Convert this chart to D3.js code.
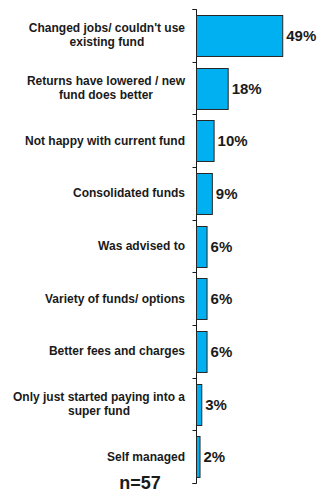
<!DOCTYPE html>
<html>
<head>
<meta charset="utf-8">
<script src="https://cdn.jsdelivr.net/npm/d3@7"></script>
<style>
  html, body { margin: 0; padding: 0; background: #ffffff; }
  svg { display: block; }
  text { font-family: Arial, "Liberation Sans", sans-serif; font-weight: bold; fill: #1a1a1a; }
</style>
</head>
<body>
<svg id="chart" width="322" height="494"></svg>
<script>
// Reasons for switching super fund (percent of respondents)
const categories = [
  "Changed jobs/ couldn't use\nexisting fund",
  "Returns have lowered / new\nfund does better",
  "Not happy with current fund",
  "Consolidated funds",
  "Was advised to",
  "Variety of funds/ options",
  "Better fees and charges",
  "Only just started paying into a\nsuper fund",
  "Self managed"
];
const values = [49, 18, 10, 9, 6, 6, 6, 3, 2];
const valueLabels = ["49%", "18%", "10%", "9%", "6%", "6%", "6%", "3%", "2%"];
const sampleNote = "n=57";

const svg = d3.select("#chart");

const x = d3.scaleLinear().domain([0, 50]).range([196, 284]);
const y = d3.scaleBand().domain(categories).range([9, 483])
  .paddingInner(0.222).paddingOuter(0.111);

// category axis on the left of the bars
const gAxis = svg.append("g").attr("transform", `translate(${x(0) + 0.5},0)`);
gAxis.append("path").attr("fill", "none").attr("stroke", "#1a1a1a").attr("d", "M-4,9.5H0V483.5H-4");
// boundary ticks between categories
const bounds = d3.range(categories.length + 1).map(i => 9 + i * y.step());
gAxis.selectAll("line.b").data(bounds).join("line")
  .attr("class", "b")
  .attr("x1", -4).attr("x2", 0)
  .attr("y1", d => Math.round(d) + 0.5).attr("y2", d => Math.round(d) + 0.5)
  .attr("stroke", "#1a1a1a");

// bars
svg.append("g").selectAll("rect").data(values).join("rect")
  .attr("x", x(0) + 0.5)
  .attr("y", (d, i) => Math.round(y(categories[i])) + 0.5)
  .attr("width", d => x(d) - x(0))
  .attr("height", y.bandwidth())
  .attr("fill", "#00B0F0")
  .attr("stroke", "#262626")
  .attr("stroke-width", 1);

// value labels
svg.append("g").selectAll("text").data(values).join("text")
  .attr("x", d => x(d) + 4)
  .attr("y", (d, i) => y(categories[i]) + y.bandwidth() / 2 + 5.5)
  .attr("font-size", 15)
  .text((d, i) => valueLabels[i]);

// category labels, wrapped on explicit breaks
const lh = 14;
svg.append("g").selectAll("text").data(categories).join("text")
  .attr("font-size", 12)
  .each(function (d) {
    const lines = d.split("\n");
    const cy = y(d) + y.bandwidth() / 2;
    const t = d3.select(this);
    lines.forEach((ln, k) => {
      t.append("tspan")
        .attr("x", 185)
        .attr("text-anchor", "end")
        .attr("y", cy + 4 + (k - (lines.length - 1) / 2) * lh)
        .text(ln);
    });
  });

// wrapped labels: centre each line on the block, block right-aligned at 185
svg.selectAll("text").filter(function () { return this.childNodes.length > 1; })
  .each(function () {
    const spans = d3.select(this).selectAll("tspan").nodes();
    const maxW = d3.max(spans, s => s.getComputedTextLength());
    const center = 185 - maxW / 2;
    spans.forEach(s => { d3.select(s).attr("x", center).attr("text-anchor", "middle"); });
  });

// sample size
svg.append("text")
  .attr("x", 140).attr("y", 489)
  .attr("text-anchor", "middle")
  .attr("font-size", 18)
  .text(sampleNote);
</script>
</body>
</html>
